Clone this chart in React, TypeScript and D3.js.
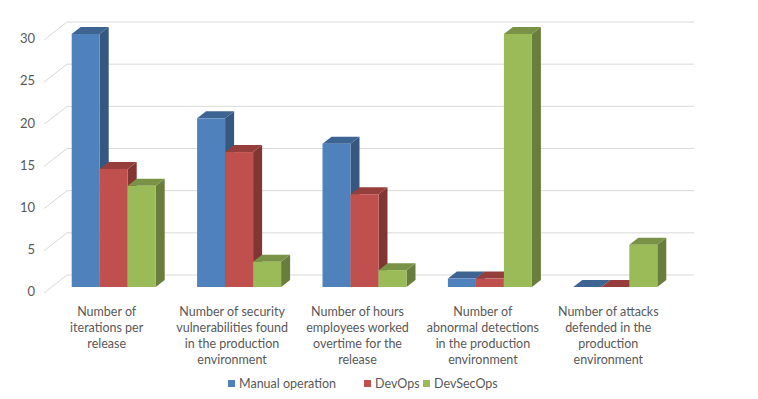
import * as d3 from 'd3'
import React from 'react'

const categories = [
  'Number of iterations per release',
  'Number of security vulnerabilities found in the production environment',
  'Number of hours employees worked overtime for the release',
  'Number of abnormal detections in the production environment',
  'Number of attacks defended in the production environment',
]
const categoryLines = [
  ['Number of', 'iterations per', 'release'],
  ['Number of security', 'vulnerabilities found', 'in the production', 'environment'],
  ['Number of hours', 'employees worked', 'overtime for the', 'release'],
  ['Number of', 'abnormal detections', 'in the production', 'environment'],
  ['Number of attacks', 'defended in the', 'production', 'environment'],
]
const seriesNames = ['Manual operation', 'DevOps', 'DevSecOps']
const manual = [30, 20, 17, 1, 0]
const devops = [14, 16, 11, 1, 0]
const devsecops = [12, 3, 2, 30, 5]
const yTicks = [0, 5, 10, 15, 20, 25, 30]
const colors = ['#4F81BD', '#C0504D', '#9BBB59']

const width = 758
const height = 399
const font = 'Lato, "Open Sans", sans-serif'
const textColor = '#595959'

// 3d offsets (front plane -> bar front, bar depth, back wall)
const barOff = [7, -6]
const depth = [9, -7]
const wallOff = [23, -18]

export default function App() {
  const seriesValues = [manual, devops, devsecops]

  const x = d3.scaleBand<string>().domain(categories).range([44, 671])
  const y = d3.scaleLinear().domain([0, 30]).range([293, 40])
  const groupW = 84
  const inner = d3.scaleBand<string>().domain(seriesNames).range([0, groupW])

  const bars: JSX.Element[] = []
  categories.forEach((c, ci) => {
    const gx = (x(c) as number) + (x.bandwidth() - groupW) / 2
    seriesNames.forEach((s, si) => {
      const v = seriesValues[si][ci]
      const x0 = gx + (inner(s) as number) + barOff[0]
      const x1 = x0 + inner.bandwidth()
      const yb = y(0) + barOff[1]
      const yt = y(v) + barOff[1]
      const base = d3.color(colors[si])!
      const side = base.darker(1.1).formatHex()
      const top = base.darker(0.7).formatHex()
      const dx = depth[0], dy = depth[1]
      bars.push(
        <g key={c + s}>
          <path d={`M${x1},${yb}L${x1 + dx},${yb + dy}L${x1 + dx},${yt + dy}L${x1},${yt}Z`} fill={side} />
          <path d={`M${x0},${yt}L${x0 + dx},${yt + dy}L${x1 + dx},${yt + dy}L${x1},${yt}Z`} fill={top} />
          <rect x={x0} y={yt} width={x1 - x0} height={yb - yt} fill={colors[si]} />
        </g>
      )
    })
  })

  const legendX = [228, 364, 423]

  return (
    <svg width={width} height={height} style={{ position: 'absolute', left: 0, top: 0 }}>
      <rect width={width} height={height} fill="#fff" />
      {yTicks.map(t => (
        <g key={t}>
          <line x1={44} y1={y(t)} x2={44 + wallOff[0]} y2={y(t) + wallOff[1]} stroke="#D9D9D9" />
          <line x1={44 + wallOff[0]} y1={y(t) + wallOff[1]} x2={671 + wallOff[0]} y2={y(t) + wallOff[1]} stroke="#D9D9D9" />
          <text x={35} y={y(t)} textAnchor="end" dominantBaseline="middle" fontFamily={font} fontSize={13} fill={textColor}>{t}</text>
        </g>
      ))}
      {bars}
      {categories.map((c, ci) => (
        <text key={c} x={(x(c) as number) + x.bandwidth() / 2} textAnchor="middle" fontFamily={font} fontSize={12.5} fill={textColor}>
          {categoryLines[ci].map((l, li) => (
            <tspan key={li} x={(x(c) as number) + x.bandwidth() / 2} y={316 + li * 16}>{l}</tspan>
          ))}
        </text>
      ))}
      {seriesNames.map((s, si) => (
        <g key={s}>
          <rect x={legendX[si]} y={380} width={7} height={7} fill={colors[si]} />
          <text x={legendX[si] + 11} y={388} fontFamily={font} fontSize={12.5} fill={textColor}>{s}</text>
        </g>
      ))}
    </svg>
  )
}
